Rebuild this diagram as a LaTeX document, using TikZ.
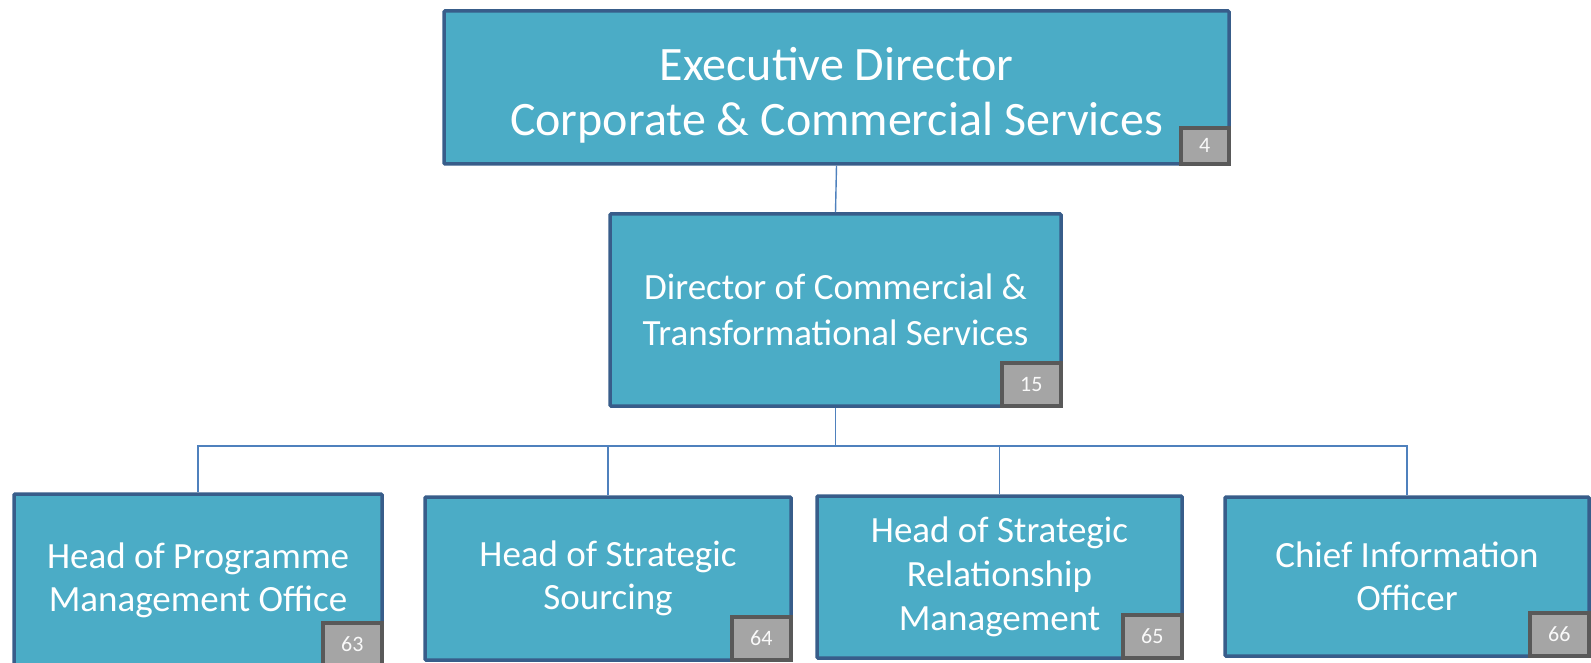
\documentclass[tikz,border=0pt]{standalone}
\usepackage{fontspec}
\setmainfont{Carlito}
\usetikzlibrary{positioning}
\definecolor{boxfill}{HTML}{4BACC6}
\definecolor{boxline}{HTML}{385D8A}
\definecolor{tagfill}{HTML}{A5A5A5}
\definecolor{tagline}{HTML}{595959}
\definecolor{wireblue}{HTML}{4F81BD}
\tikzset{
post/.style={draw=boxline, fill=boxfill, line width=3.5pt, text=white, align=center, inner sep=0pt, rounded corners=1pt},
numtag/.style={draw=tagline, fill=tagfill, line width=4pt, text=white!95!gray, inner sep=0pt, anchor=south east, minimum width=59pt, minimum height=43pt, font=\fontsize{22}{22}\selectfont},
wire/.style={draw=wireblue, line width=1.4pt}
}

\begin{document}
\begin{tikzpicture}[x=1pt, y=-1pt]
    \useasboundingbox (0,0) rectangle (1591,663);

                \node[post, minimum width=785pt, minimum height=153pt, font=\fontsize{48}{55}\selectfont] (exec) at (836.5,87.5) {\rule{0pt}{48pt}Executive Director\\Corporate \& Commercial Services};
                \node[post, minimum width=451pt, minimum height=192pt, font=\fontsize{37}{46}\selectfont] (dir) at (835.5,310) {Director of Commercial \&\\Transformational Services};
                \node[post, minimum width=368pt, minimum height=172pt, font=\fontsize{37}{43}\selectfont] (pmo) at (198,580) {Head of Programme\\Management Office};
                \node[post, minimum width=366pt, minimum height=163pt, font=\fontsize{37}{43}\selectfont] (src) at (608,578.5) {Head of Strategic\\Sourcing};
                \node[post, minimum width=365pt, minimum height=162pt, font=\fontsize{37}{44}\selectfont] (srm) at (999.5,577) {Head of Strategic\\Relationship\\Management};
                \node[post, minimum width=364pt, minimum height=159pt, font=\fontsize{37}{43}\selectfont] (cio) at (1407,576.5) {Chief Information\\Officer};

                \node[numtag, minimum width=48pt, minimum height=36pt] (t4) at (exec.south east) {4};
                \node[numtag] (t15) at (dir.south east) {15};
                \node[numtag] (t63) at (pmo.south east) {63};
                \node[numtag] (t64) at (src.south east) {64};
                \node[numtag] (t65) at (srm.south east) {65};
                \node[numtag] (t66) at (cio.south east) {66};

                \coordinate (bus) at (0,446);
                \draw[wire] (exec.south) -- (dir.north);
                \draw[wire] (dir.south) -- (dir.south |- bus);
                \draw[wire] (pmo.north) -- (pmo.north |- bus) -- (cio.north |- bus) -- (cio.north);
                \draw[wire] (src.north) -- (src.north |- bus);
                \draw[wire] (srm.north) -- (srm.north |- bus);

            \end{tikzpicture}
\end{document}
